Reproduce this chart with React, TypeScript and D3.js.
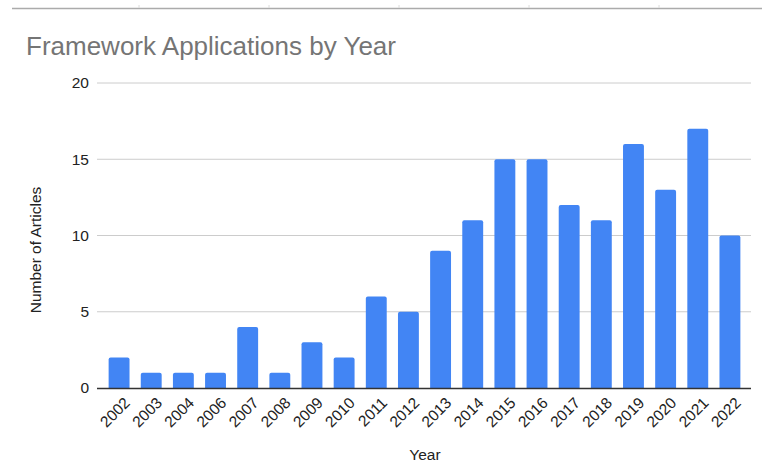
import React from "react";
import * as d3 from "d3";

const years = ["2002","2003","2004","2006","2007","2008","2009","2010","2011","2012","2013","2014","2015","2016","2017","2018","2019","2020","2021","2022"];
const articles = [2,1,1,1,4,1,3,2,6,5,9,11,15,15,12,11,16,13,17,10];
const yTicks = [0,5,10,15,20];
const topTicks = [139,269,399,529,659];

const W = 762, H = 464;
const plotLeft = 97, plotRight = 751, plotTop = 83, plotBottom = 388;

export default function App() {
  const x = d3.scaleBand<string>().domain(years).range([103, 746]).paddingInner(0.35).paddingOuter(0.175);
  const y = d3.scaleLinear().domain([0, 20]).range([plotBottom, plotTop]);
  const font = "'Liberation Sans', Arial, sans-serif";
  const bw = x.bandwidth();
  const r = 2;
  const fs = 15.5;
  return (
    <svg width={W} height={H} style={{ position: "absolute", left: 0, top: 0 }} fontFamily={font}>
      <rect width={W} height={H} fill="#fff" />
      <line x1={12} x2={W} y1={8.5} y2={8.5} stroke="#ababab" strokeWidth={1.5} />
      {topTicks.map((t) => (
        <line key={t} x1={t} x2={t} y1={5} y2={8} stroke="#dcdcdc" strokeWidth={1} />
      ))}
      <text x={26} y={55} fontSize={26} fill="#757575">Framework Applications by Year</text>
      {yTicks.filter((t) => t > 0).map((t) => (
        <line key={t} x1={plotLeft} x2={plotRight} y1={y(t)} y2={y(t)} stroke="#cccccc" strokeWidth={1} />
      ))}
      {yTicks.map((t) => (
        <text key={t} x={89} y={y(t)} dy="0.35em" textAnchor="end" fontSize={fs} fill="#222">{t}</text>
      ))}
      {years.map((yr, i) => {
        const x0 = x(yr)!;
        const yt = y(articles[i]);
        const h = plotBottom - yt;
        const d = `M${x0},${plotBottom} L${x0},${yt + r} Q${x0},${yt} ${x0 + r},${yt} L${x0 + bw - r},${yt} Q${x0 + bw},${yt} ${x0 + bw},${yt + r} L${x0 + bw},${plotBottom} Z`;
        return h > 0 ? <path key={yr} d={d} fill="#4285f4" /> : null;
      })}
      <line x1={plotLeft} x2={plotRight} y1={plotBottom + 0.5} y2={plotBottom + 0.5} stroke="#333" strokeWidth={1.3} />
      {years.map((yr) => {
        const cx = x(yr)! + bw / 2 + 8;
        return (
          <text key={yr} transform={`translate(${cx},${plotBottom + 12}) rotate(-45)`} textAnchor="end" dy="0.35em" fontSize={fs} fill="#222">{yr}</text>
        );
      })}
      <text x={425} y={460} textAnchor="middle" fontSize={fs} fill="#222">Year</text>
      <text transform={`translate(36,250) rotate(-90)`} textAnchor="middle" dy="0.35em" fontSize={fs} fill="#222">Number of Articles</text>
    </svg>
  );
}
